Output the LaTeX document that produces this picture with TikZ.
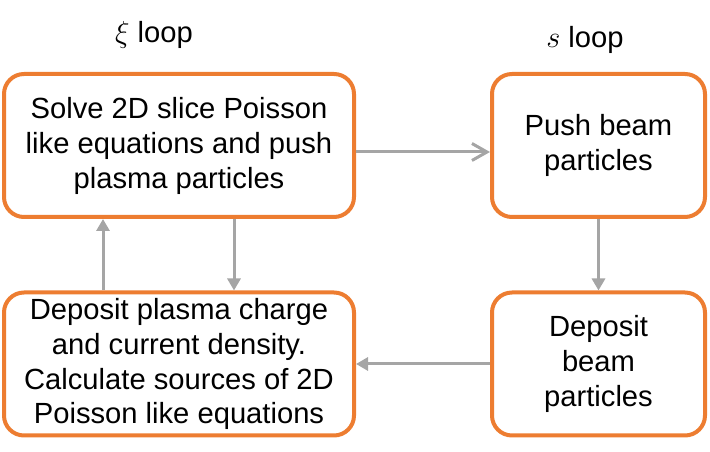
\documentclass[tikz,border=0pt]{standalone}
\usepackage{fontspec}
\setmainfont{Liberation Sans}
\usepackage{xcolor}
\usepackage{tikz}
\usetikzlibrary{arrows.meta}
\definecolor{boxorange}{HTML}{ED7D31}
\definecolor{arrowgray}{HTML}{A5A5A5}
\tikzset{
  loopbox/.style={draw=boxorange, line width=0.08cm, rounded corners=0.4cm, fill=white, align=center, inner sep=0pt, minimum height=2.86cm, font=\fontsize{16.6pt}{19.9pt}\selectfont},
  flowarrow/.style={draw=arrowgray, line width=0.06cm, -{Triangle[length=0.24cm, width=0.26cm]}},
  looptitle/.style={anchor=base, font=\fontsize{16.6pt}{19.9pt}\selectfont},
}

\begin{document}
\begin{tikzpicture}
\useasboundingbox (0,0) rectangle (14.2,9.04);
\node[looptitle] (xititle) at (3.08,8.18) {$\xi$ loop};
\node[looptitle] (stitle) at (11.7,8.08) {$s$ loop};
\node[loopbox, minimum width=7.0cm] (solve) at (3.58,6.13) {Solve 2D slice Poisson\\like equations and push\\plasma particles};
\node[loopbox, minimum width=4.26cm] (pushbeam) at (11.97,6.13) {Push beam\\particles};
\node[loopbox, minimum width=7.0cm] (depplasma) at (3.58,1.76) {Deposit plasma charge\\and current density.\\Calculate sources of 2D\\Poisson like equations};
\node[loopbox, minimum width=4.26cm] (depbeam) at (11.97,1.76) {Deposit\\beam\\particles};
\draw[flowarrow, -{Straight Barb[length=0.3cm, width=0.34cm]}] ([yshift=-0.13cm]solve.east) -- ([yshift=-0.13cm]pushbeam.west);
\draw[flowarrow] (pushbeam.south) -- (depbeam.north);
\draw[flowarrow] (depbeam.west) -- (depplasma.east);
\draw[flowarrow] ([xshift=1.1cm]solve.south) -- ([xshift=1.1cm]depplasma.north);
\draw[flowarrow] ([xshift=-1.52cm]depplasma.north) -- ([xshift=-1.52cm]solve.south);
\end{tikzpicture}
\end{document}
